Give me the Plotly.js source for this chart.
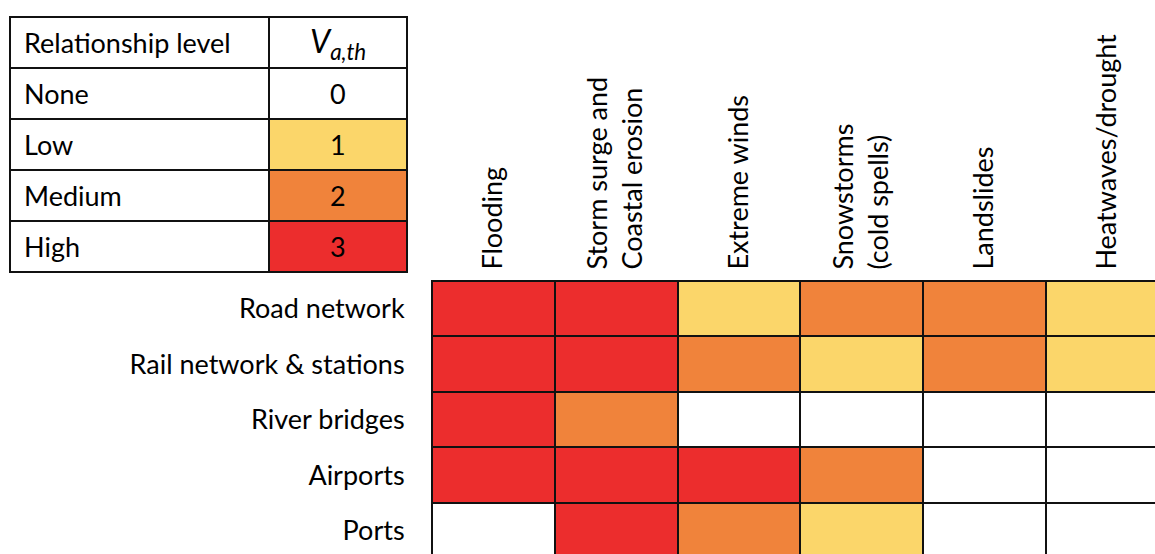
<!DOCTYPE html>
<html><head><meta charset="utf-8">
<script src="https://cdn.plot.ly/plotly-3.0.1.min.js"></script>
<style>html,body{margin:0;padding:0;background:#fff}#chart{width:1155px;height:554px}</style>
</head><body><div id="chart"></div>
<script>
const hazards = ["Flooding", "Storm surge and<br>Coastal erosion", "Extreme winds", "Snowstorms<br>(cold spells)", "Landslides", "Heatwaves/drought"];
const assets = ["Road network", "Rail network & stations", "River bridges", "Airports", "Ports"];
const roadVals = [3, 3, 1, 2, 2, 1];
const railVals = [3, 3, 2, 1, 2, 1];
const bridgeVals = [3, 2, 0, 0, 0, 0];
const airportVals = [3, 3, 3, 2, 0, 0];
const portVals = [0, 3, 2, 1, 0, 0];
const legendHeader = ["Relationship level", "<i>V<sub>a,th</sub></i>"];
const levelNames = ["None", "Low", "Medium", "High"];
const levelValues = [0, 1, 2, 3];
const levelColors = ["#FFFFFF", "#FBD66A", "#F0833B", "#EC2D2D"];

const W = 1155, H = 554;
const FONT = "Lato, 'Noto Sans', sans-serif";
const FS = 27;
const z = [roadVals, railVals, bridgeVals, airportVals, portVals];
const colorscale = levelValues.map((v, i) => [v / 3, levelColors[i]]);

const heat = {
  type: "heatmap",
  x: hazards.map((_, i) => i),
  y: assets.map((_, i) => i),
  z: z,
  zmin: 0, zmax: 3,
  colorscale: colorscale,
  showscale: false,
  xgap: 2, ygap: 2,
  hoverinfo: "skip"
};

// legend table drawn as a two-column heatmap: first column white, second column coloured by level
const legendCols = [0, 259, 397];           // column edges (widths 259 and 138)
const legendZ = [[0, 0]].concat(levelValues.map(v => [0, v]));
const legendHeat = {
  type: "heatmap",
  xaxis: "x2", yaxis: "y2",
  x: legendCols,
  y: legendZ.map((_, i) => i),
  z: legendZ,
  zmin: 0, zmax: 3,
  colorscale: colorscale,
  showscale: false,
  xgap: 2, ygap: 2,
  hoverinfo: "skip"
};

const annotations = [];
const rowLabels = [legendHeader[0]].concat(levelNames);
const rowValues = [legendHeader[1]].concat(levelValues.map(String));
rowLabels.forEach((t, i) => annotations.push({
  xref: "x2", yref: "y2", x: legendCols[0] + 12, y: i, text: t,
  xanchor: "left", yanchor: "middle", showarrow: false,
  font: {family: FONT, size: FS, color: "#000"}
}));
rowValues.forEach((t, i) => annotations.push({
  xref: "x2", yref: "y2", x: (legendCols[1] + legendCols[2]) / 2, y: i, text: t,
  xanchor: "center", yanchor: "middle", showarrow: false,
  font: {family: FONT, size: i === 0 ? 32 : FS, color: "#000"}
}));

const hidden = {showticklabels: false, ticks: "", showgrid: false, zeroline: false, fixedrange: true};

const layout = {
  width: W, height: H,
  margin: {l: 0, r: 0, t: 0, b: 0},
  paper_bgcolor: "#FFFFFF",
  plot_bgcolor: "#111111",
  showlegend: false,
  font: {family: FONT, size: FS, color: "#000"},
  xaxis: {
    domain: [432 / W, 1],
    range: [-0.5, 5.39],
    side: "top",
    tickmode: "array",
    tickvals: hazards.map((_, i) => i),
    ticktext: hazards,
    tickangle: -90,
    ticks: "outside", ticklen: 5, tickcolor: "rgba(0,0,0,0)",
    showgrid: false, zeroline: false,
    showline: true, linecolor: "#111", linewidth: 1,
    fixedrange: true
  },
  yaxis: {
    domain: [0, 1 - 281 / H],
    range: [4.42, -0.5],
    tickmode: "array",
    tickvals: assets.map((_, i) => i),
    ticktext: assets,
    ticks: "outside", ticklen: 21, tickcolor: "rgba(0,0,0,0)",
    showgrid: false, zeroline: false,
    showline: true, linecolor: "#111", linewidth: 1,
    fixedrange: true
  },
  xaxis2: Object.assign({domain: [10 / W, 407 / W], range: [0, 397], anchor: "y2",
    showline: true, mirror: true, linecolor: "#111", linewidth: 1}, hidden),
  yaxis2: Object.assign({domain: [1 - 272 / H, 1 - 17 / H], range: [4.5, -0.5], anchor: "x2",
    showline: true, mirror: true, linecolor: "#111", linewidth: 1}, hidden),
  annotations: annotations
};

Plotly.newPlot("chart", [heat, legendHeat], layout, {displayModeBar: false, staticPlot: true});
</script>
</body></html>
